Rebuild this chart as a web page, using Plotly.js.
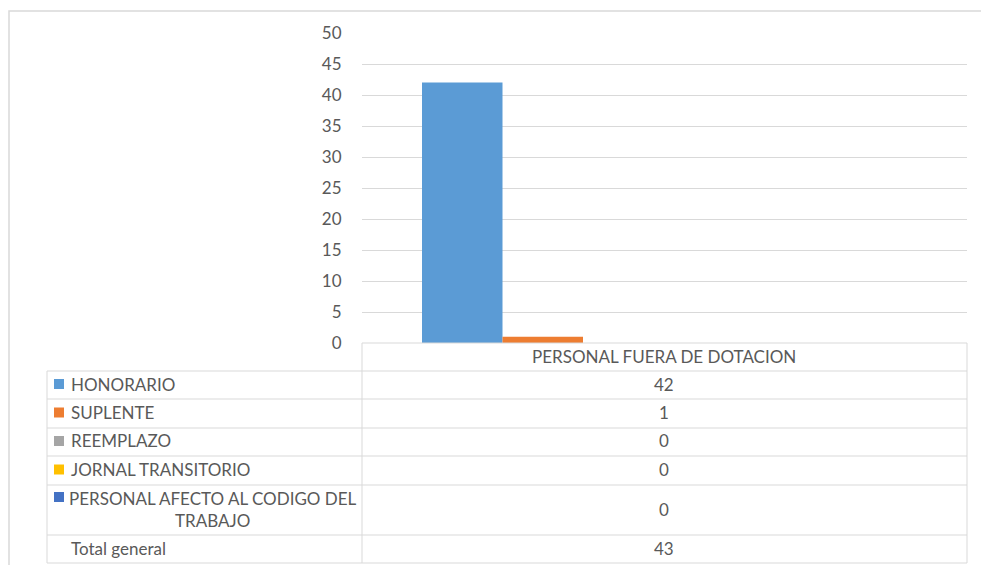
<!DOCTYPE html>
<html>
<head>
<meta charset="utf-8">
<script src="https://cdn.plot.ly/plotly-3.0.1.min.js"></script>
<style>html,body{margin:0;padding:0;background:#fff;}#chart{width:981px;height:565px;}</style>
</head>
<body>
<div id="chart"></div>
<script>
// ---- data ----
const category = ["PERSONAL FUERA DE DOTACION"];
const seriesNames = ["HONORARIO", "SUPLENTE", "REEMPLAZO", "JORNAL TRANSITORIO", "PERSONAL AFECTO AL CODIGO DEL<br>TRABAJO"];
const seriesValues = [42, 1, 0, 0, 0];
const seriesColors = ["#5B9BD5", "#ED7D31", "#A5A5A5", "#FFC000", "#4472C4"];
const totalLabel = "Total general";
const totalValue = 43;
const yTicks = [0, 5, 10, 15, 20, 25, 30, 35, 40, 45, 50];

// ---- geometry helpers (pixels -> paper) ----
const W = 981, H = 565;
const px = x => x / W;
const py = y => 1 - y / H;
const FONT = "Lato, 'Open Sans', sans-serif";
const TXT = "#595959";
const LINE = "#D9D9D9";
const FS = 17;

const traces = seriesNames.map((n, i) => ({
  type: "bar",
  name: n,
  x: [0],
  y: [seriesValues[i]],
  marker: {color: seriesColors[i]},
  hoverinfo: "y+name"
}));

// table rows (pixel rows)
const rowEdges = [371, 399, 428, 456, 485, 535, 563];
const shapes = [];
const ann = [];
// outer chart border
shapes.push({type: "rect", xref: "paper", yref: "paper", x0: px(9), x1: px(995), y0: py(11), y1: py(580), line: {color: "#D9D9D9", width: 1.5}});
// header top (x axis line)
shapes.push({type: "line", xref: "paper", yref: "paper", x0: px(362), x1: px(967), y0: py(343), y1: py(343), line: {color: LINE, width: 1}});
// horizontal table lines
rowEdges.forEach(y => shapes.push({type: "line", xref: "paper", yref: "paper", x0: px(47), x1: px(967), y0: py(y), y1: py(y), line: {color: LINE, width: 1}}));
// vertical lines
shapes.push({type: "line", xref: "paper", yref: "paper", x0: px(47), x1: px(47), y0: py(371), y1: py(563), line: {color: LINE, width: 1}});
shapes.push({type: "line", xref: "paper", yref: "paper", x0: px(362), x1: px(362), y0: py(343), y1: py(563), line: {color: LINE, width: 1}});
shapes.push({type: "line", xref: "paper", yref: "paper", x0: px(967), x1: px(967), y0: py(343), y1: py(563), line: {color: LINE, width: 1}});

// header text
ann.push({xref: "paper", yref: "paper", x: px(664), y: py(356), text: category[0], showarrow: false, xanchor: "center", yanchor: "middle", font: {family: FONT, size: FS, color: TXT}});

const labels = seriesNames.concat([totalLabel]);
const values = seriesValues.concat([totalValue]);
labels.forEach((lab, i) => {
  const top = rowEdges[i], bot = rowEdges[i + 1];
  const cy = (top + bot) / 2 - 1;
  if (i < seriesNames.length) {
    const sqY = lab.indexOf("<br>") >= 0 ? top + 12 : cy;
    shapes.push({type: "rect", xref: "paper", yref: "paper", x0: px(54), x1: px(64), y0: py(sqY - 5), y1: py(sqY + 5), fillcolor: seriesColors[i], line: {width: 0}});
  }
  if (lab.indexOf("<br>") >= 0) {
    ann.push({xref: "paper", yref: "paper", x: px(213), y: py(cy), text: lab, showarrow: false, xanchor: "center", yanchor: "middle", align: "center", font: {family: FONT, size: FS, color: TXT}});
  } else {
    ann.push({xref: "paper", yref: "paper", x: px(69), y: py(cy), text: lab, showarrow: false, xanchor: "left", yanchor: "middle", font: {family: FONT, size: FS, color: TXT}});
  }
  ann.push({xref: "paper", yref: "paper", x: px(664), y: py(cy), text: String(values[i]), showarrow: false, xanchor: "center", yanchor: "middle", font: {family: FONT, size: FS, color: TXT}});
});

// x range so group sits like the original (bars 80.5px wide, starting 60px in)
const g = 0.8;                 // group width (1 - bargap)
const k = (5 * 80.5) / g;      // px per unit
const xr = [-g / 2 - 60 / k, -g / 2 - 60 / k + 605 / k];

const layout = {
  width: W, height: H,
  margin: {l: 0, r: 0, t: 0, b: 0},
  paper_bgcolor: "#fff", plot_bgcolor: "#fff",
  showlegend: false,
  barmode: "group", bargap: 1 - g, bargroupgap: 0,
  xaxis: {domain: [px(362), px(967)], range: xr, showticklabels: false, showgrid: false, zeroline: false, showline: false, ticks: "", fixedrange: true},
  yaxis: {domain: [py(343), py(33)], range: [0, 50], tickvals: yTicks, ticktext: yTicks.map(String),
          showgrid: true, gridcolor: LINE, gridwidth: 1, zeroline: false, showline: false,
          ticks: "outside", ticklen: 16, tickcolor: "rgba(0,0,0,0)",
          tickfont: {family: FONT, size: 17, color: TXT}},
  shapes: shapes,
  annotations: ann
};

Plotly.newPlot("chart", traces, layout, {displayModeBar: false, staticPlot: true});
</script>
</body>
</html>
